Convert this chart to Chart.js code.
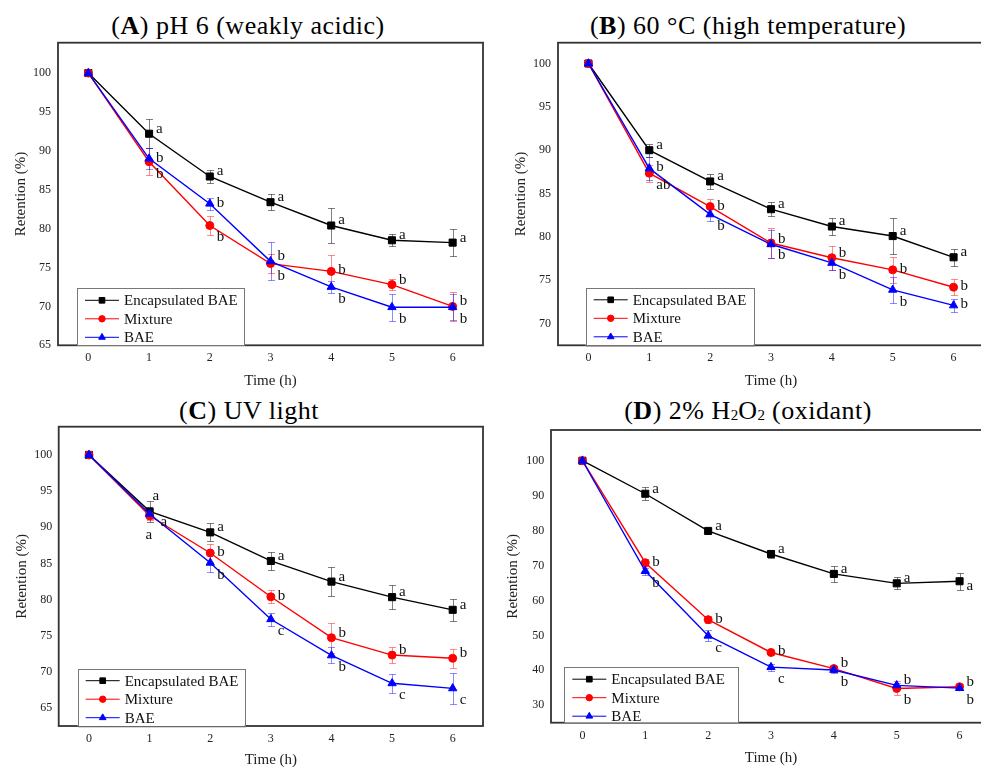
<!DOCTYPE html>
<html>
<head>
<meta charset="utf-8">
<script src="https://cdn.jsdelivr.net/npm/chart.js@4.4.1/dist/chart.umd.min.js"></script>
<style>
  body { margin: 0; width: 981px; height: 767px; overflow: hidden; background: #fff; position: relative; font-family: "Liberation Serif", serif; }
  canvas { position: absolute; }
  .ttl { position: absolute; font-size: 26px; line-height: 26px; letter-spacing: 0.5px; white-space: nowrap; transform: translateX(-50%); color: #000; }
  .s { font-size: 15px; vertical-align: -1px; letter-spacing: 0; }
</style>
</head>
<body>
<div class="ttl" style="left:248px; top:13px">(<b>A</b>) pH 6 (weakly acidic)</div>
<div class="ttl" style="left:748px; top:13px">(<b>B</b>) 60 °C (high temperature)</div>
<div class="ttl" style="left:249px; top:398px">(<b>C</b>) UV light</div>
<div class="ttl" style="left:748px; top:398px">(<b>D</b>) 2% H<span class="s">2</span>O<span class="s">2</span> (oxidant)</div>

<canvas id="chartA" width="490" height="392" style="left:0; top:0"></canvas>
<canvas id="chartB" width="500" height="392" style="left:490px; top:0"></canvas>
<canvas id="chartC" width="490" height="380" style="left:0; top:392px"></canvas>
<canvas id="chartD" width="510" height="380" style="left:490px; top:392px"></canvas>

<script>
const hours = ['0', '1', '2', '3', '4', '5', '6'];
const seriesNames = ['Encapsulated BAE', 'Mixture', 'BAE'];

// (A) pH 6
const encA = [100, 92.2, 86.7, 83.4, 80.4, 78.5, 78.2];
const encErrA = [0, 1.9, 0.8, 1.05, 2.3, 0.75, 1.7];
const mixA = [100, 88.6, 80.4, 75.5, 74.5, 72.8, 70.0];
const mixErrA = [0, 1.7, 1.2, 1.2, 2.1, 0.75, 1.9];
const baeA = [100, 89.0, 83.2, 75.8, 72.5, 69.9, 69.9];
const baeErrA = [0, 1.4, 0.8, 2.45, 0.8, 1.75, 1.65];
const encLetA = ['', 'a', 'a', 'a', 'a', 'a', 'a'];
const mixLetA = ['', 'b', 'b', 'b', 'b', 'b', 'b'];
const baeLetA = ['', 'b', 'b', 'b', 'b', 'b', 'b'];
const yTicksA = [65, 70, 75, 80, 85, 90, 95, 100];

// (B) 60 °C
const encB = [100, 90.0, 86.4, 83.2, 81.2, 80.1, 77.65];
const encErrB = [0, 0.77, 0.85, 0.8, 1.0, 2.05, 0.95];
const mixB = [100, 87.35, 83.5, 79.3, 77.6, 76.2, 74.2];
const mixErrB = [0, 1.0, 0.9, 1.7, 1.4, 1.5, 0.95];
const baeB = [100, 87.9, 82.6, 79.15, 77.0, 73.9, 72.1];
const baeErrB = [0, 1.3, 0.8, 1.6, 0.8, 1.5, 0.77];
const encLetB = ['', 'a', 'a', 'a', 'a', 'a', 'a'];
const mixLetB = ['', 'ab', 'b', 'b', 'b', 'b', 'b'];
const baeLetB = ['', 'b', 'b', 'b', 'b', 'b', 'b'];
const yTicksB = [70, 75, 80, 85, 90, 95, 100];

// (C) UV light
const encC = [100, 92.2, 89.3, 85.35, 82.5, 80.35, 78.6];
const encErrC = [0, 1.4, 1.25, 1.3, 1.95, 1.7, 1.55];
const mixC = [100, 91.6, 86.45, 80.4, 74.75, 72.35, 71.9];
const mixErrC = [0, 0.6, 1.3, 0.9, 2.05, 1.1, 1.35];
const baeC = [100, 91.85, 85.1, 77.3, 72.3, 68.45, 67.75];
const baeErrC = [0, 0.7, 1.25, 0.9, 1.1, 1.3, 2.1];
const encLetC = ['', 'a', 'a', 'a', 'a', 'a', 'a'];
const mixLetC = ['', 'a', 'b', 'b', 'b', 'b', 'b'];
const baeLetC = ['', 'a', 'b', 'c', 'b', 'c', 'c'];
const yTicksC = [65, 70, 75, 80, 85, 90, 95, 100];

// (D) 2% H2O2
const encD = [100, 90.55, 79.9, 73.3, 67.6, 64.9, 65.5];
const encErrD = [0, 1.8, 0.5, 1.2, 2.2, 1.7, 2.5];
const mixD = [100, 70.8, 54.5, 45.1, 40.5, 34.8, 35.3];
const mixErrD = [0, 1.0, 1.0, 0.8, 0.8, 2.0, 0.8];
const baeD = [100, 68.4, 49.9, 40.9, 40.1, 35.7, 34.9];
const baeErrD = [0, 1.0, 1.6, 1.0, 1.0, 0.8, 0.6];
const encLetD = ['', 'a', 'a', 'a', 'a', 'a', 'a'];
const mixLetD = ['', 'b', 'b', 'b', 'b', 'b', 'b'];
const baeLetD = ['', 'b', 'c', 'c', 'b', 'b', 'b'];
const yTicksD = [30, 40, 50, 60, 70, 80, 90, 100];

// where each letter sits next to its point
const encPosA = ['', 'u', 'u', 'u', 'u', 'u', 'u'];
const mixPosA = ['', 'd', 'd', 'd', 'r', 'u', 'u'];
const baePosA = ['', 'r', 'r', 'u', 'd', 'd', 'd'];
const encPosB = ['', 'u', 'u', 'u', 'u', 'u', 'u'];
const mixPosB = ['', 'd', 'r', 'd', 'u', 'r', 'r'];
const baePosB = ['', 'r', 'd', 'u', 'd', 'd', 'r'];
const encPosC = ['', 'uu', 'u', 'u', 'u', 'u', 'u'];
const mixPosC = ['', 'rr', 'r', 'r', 'u', 'u', 'u'];
const baePosC = ['', 'dd', 'd', 'd', 'd', 'd', 'd'];
const encPosD = ['', 'u', 'u', 'u', 'u', 'u', 'rd'];
const mixPosD = ['', 'r', 'r', 'r', 'u', 'd', 'u'];
const baePosD = ['', 'd', 'd', 'd', 'd', 'u', 'd'];

const colors = ['#000000', '#ff0000', '#0000ff'];
const barColors = ['rgba(0,0,0,0.5)', 'rgba(255,0,0,0.45)', 'rgba(0,0,255,0.45)'];
const shapes = ['rect', 'circle', 'triangle'];
const sizes = [5, 4, 4.8];
const spot = { u: [7, -5], r: [7, -1], d: [7, 12], rd: [7, 5], uu: [3, -15], rr: [11, 6], dd: [-4, 21] };

Chart.defaults.font.family = '"Liberation Serif", serif';

function series(i, values, errors, letters, places) {
  return {
    label: seriesNames[i], data: values, errors: errors, letters: letters, places: places,
    borderColor: colors[i], backgroundColor: colors[i], barColor: barColors[i],
    pointStyle: shapes[i], pointRadius: sizes[i], pointHoverRadius: sizes[i],
    borderWidth: 1.4, pointBorderWidth: 1, order: 3 - i, tension: 0
  };
}

const errorBars = {
  id: 'errorBars',
  beforeDatasetsDraw(chart) {
    const ctx = chart.ctx, y = chart.scales.y;
    chart.data.datasets.forEach((ds, i) => {
      const meta = chart.getDatasetMeta(i);
      ctx.save();
      ctx.strokeStyle = ds.barColor;
      ctx.lineWidth = 1;
      meta.data.forEach((pt, j) => {
        const e = ds.errors[j];
        if (!e) return;
        const x = Math.round(pt.x) + 0.5;
        const top = Math.round(y.getPixelForValue(ds.data[j] + e)) + 0.5;
        const bot = Math.round(y.getPixelForValue(ds.data[j] - e)) + 0.5;
        ctx.beginPath();
        ctx.moveTo(x, top); ctx.lineTo(x, bot);
        ctx.moveTo(x - 3.5, top); ctx.lineTo(x + 3.5, top);
        ctx.moveTo(x - 3.5, bot); ctx.lineTo(x + 3.5, bot);
        ctx.stroke();
      });
      ctx.restore();
    });
  }
};

const frame = {
  id: 'frame',
  afterDatasetsDraw(chart) {
    const { ctx, chartArea: a } = chart;
    ctx.save();
    ctx.strokeStyle = '#333';
    ctx.lineWidth = 1.8;
    ctx.strokeRect(a.left, a.top, a.right - a.left, a.bottom - a.top);
    ctx.restore();
  }
};

const letterMarks = {
  id: 'letterMarks',
  afterDatasetsDraw(chart) {
    const ctx = chart.ctx;
    ctx.save();
    ctx.font = '15px "Liberation Serif", serif';
    ctx.fillStyle = '#111';
    ctx.textAlign = 'left';
    ctx.textBaseline = 'middle';
    chart.data.datasets.forEach((ds, i) => {
      chart.getDatasetMeta(i).data.forEach((pt, j) => {
        if (!ds.letters[j]) return;
        const s = spot[ds.places[j]];
        ctx.fillText(ds.letters[j], pt.x + s[0], pt.y + s[1]);
      });
    });
    ctx.restore();
  }
};

const boxLegend = {
  id: 'boxLegend',
  afterDraw(chart, args, opts) {
    const { ctx, chartArea: a } = chart;
    const left = a.left + opts.dx, top = a.bottom - opts.h;
    ctx.save();
    ctx.fillStyle = '#fff';
    ctx.fillRect(left, top, opts.w, opts.h);
    ctx.strokeStyle = '#777';
    ctx.lineWidth = 1;
    ctx.strokeRect(Math.round(left) + 0.5, Math.round(top) + 0.5, opts.w, opts.h);
    ctx.font = '15px "Liberation Serif", serif';
    ctx.textBaseline = 'middle';
    chart.data.datasets.forEach((ds, i) => {
      const yy = top + 12 + i * 18.5;
      ctx.strokeStyle = ds.borderColor;
      ctx.beginPath();
      ctx.moveTo(left + 8, yy); ctx.lineTo(left + 42, yy);
      ctx.stroke();
      ctx.fillStyle = ds.borderColor;
      Chart.helpers.drawPoint(ctx, { pointStyle: ds.pointStyle, radius: ds.pointRadius * 0.8, rotation: 0, borderWidth: 1 }, left + 25, yy);
      ctx.fillStyle = '#111';
      ctx.fillText(ds.label, left + 47, yy + 1);
    });
    ctx.restore();
  }
};

function makeChart(id, sets, yTicks, yMin, yMax, g) {
  new Chart(document.getElementById(id), {
    type: 'line',
    data: { labels: hours, datasets: sets },
    options: {
      responsive: false,
      animation: false,
      events: [],
      layout: { padding: { left: g.padL, top: g.padT, right: g.padR, bottom: g.padB } },
      plugins: {
        legend: { display: false },
        tooltip: { enabled: false },
        boxLegend: { dx: g.legX, w: g.legW, h: g.legH }
      },
      scales: {
        x: {
          type: 'category', offset: true,
          grid: { display: false, drawTicks: false }, border: { display: false },
          ticks: { padding: 5.5, color: '#222', font: { size: 12 } },
          title: { display: true, text: 'Time (h)', color: '#222', font: { size: 15 }, padding: 0 },
          afterFit: s => { s.height = g.xH; }
        },
        y: {
          min: yMin, max: yMax,
          afterBuildTicks: s => { s.ticks = yTicks.map(v => ({ value: v })); },
          grid: { display: false, drawTicks: false }, border: { display: false },
          ticks: { padding: g.tickPad, color: '#222', font: { size: 12 } },
          title: { display: true, text: 'Retention (%)', color: '#222', font: { size: 15 }, padding: 0 },
          afterFit: s => { s.width = g.yW; }
        }
      }
    },
    plugins: [errorBars, frame, letterMarks, boxLegend]
  });
}

makeChart('chartA', [
  series(0, encA, encErrA, encLetA, encPosA),
  series(1, mixA, mixErrA, mixLetA, mixPosA),
  series(2, baeA, baeErrA, baeLetA, baePosA)
], yTicksA, 65, 103.9, { padL: 12, padT: 42.7, padR: 7, padB: 2, yW: 46, xH: 44.7, tickPad: 7, legX: 19, legW: 167, legH: 57 });

makeChart('chartB', [
  series(0, encB, encErrB, encLetB, encPosB),
  series(1, mixB, mixErrB, mixLetB, mixPosB),
  series(2, baeB, baeErrB, baeLetB, baePosB)
], yTicksB, 67.5, 102.4, { padL: 21.8, padT: 42.7, padR: 6, padB: 2, yW: 46.2, xH: 44.7, tickPad: 7, legX: 27.7, legW: 168, legH: 57.5 });

makeChart('chartC', [
  series(0, encC, encErrC, encLetC, encPosC),
  series(1, mixC, mixErrC, mixLetC, mixPosC),
  series(2, baeC, baeErrC, baeLetC, baePosC)
], yTicksC, 62.55, 103.9, { padL: 13.2, padT: 34.7, padR: 7, padB: 3, yW: 45.5, xH: 43, tickPad: 6.4, legX: 19, legW: 167, legH: 57.3 });

makeChart('chartD', [
  series(0, encD, encErrD, encLetD, encPosD),
  series(1, mixD, mixErrD, mixLetD, mixPosD),
  series(2, baeD, baeErrD, baeLetD, baePosD)
], yTicksD, 25, 108.8, { padL: 14.3, padT: 38, padR: 9, padB: 5.3, yW: 46.7, xH: 44, tickPad: 6.7, legX: 13.3, legW: 174, legH: 55.5 });
</script>
</body>
</html>
